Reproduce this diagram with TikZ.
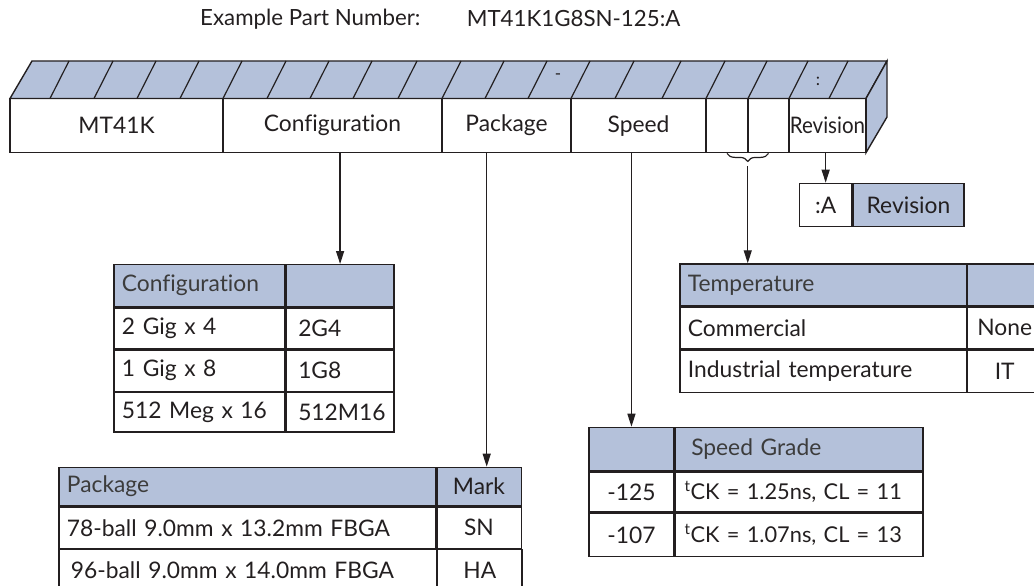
\documentclass[tikz,border=0pt]{standalone}
\usepackage{fontspec}
\setmainfont{Lato}[Ligatures={NoCommon}]
\usetikzlibrary{calc,arrows.meta,decorations.pathreplacing}

\definecolor{trait}{RGB}{35,31,32}
\definecolor{bleu}{RGB}{180,193,218}
\definecolor{gristexte}{RGB}{60,60,60}

\tikzset{
  case/.style={draw=trait, line width=1.4pt, inner sep=0pt, minimum height=54.2pt},
  cel/.style={draw=trait, line width=1.3pt, anchor=north west, inner xsep=8pt, inner ysep=0pt, align=left},
  celc/.style={draw=trait, line width=1.3pt, anchor=north west, inner sep=0pt, align=center},
  entete/.style={fill=bleu, text=gristexte},
  fleche/.style={draw=trait, line width=1.3pt, -{Triangle[length=13pt,width=8pt]}},
  cfgg/.style={cel, text width=155pt},
  cfgd/.style={cel, inner xsep=12pt, text width=83.7pt},
  pkgg/.style={cel, text width=360.6pt},
  pkgd/.style={celc, minimum width=84.3pt},
  spdg/.style={celc, minimum width=85pt},
  spdd/.style={cel, inner xsep=9.4pt, text width=228.9pt},
  tmpg/.style={cel, text width=270.2pt},
  tmpd/.style={celc, minimum width=74.5pt}
}

\begin{document}
\begin{tikzpicture}[x=1pt, y=-1pt, font=\fontsize{22.8}{27}\selectfont, text=trait]
      \useasboundingbox (0,0) rectangle (1034,586);
      \clip (0,0) rectangle (1034,586);

      % TITRE
      \node[anchor=west, font=\fontsize{22.3}{25}\selectfont] (titre) at (196.7,19) {Example Part Number:};
      \node[anchor=west, font=\fontsize{22.3}{25}\selectfont] (numero) at (463.3,19) {MT41K1G8SN-125:A};

      % DESSUS ET COTE
      \filldraw[fill=bleu, draw=trait, line width=1.4pt] (10,98.5) -- (32,61) -- (887,61) -- (866,98.5) -- cycle;
      \filldraw[fill=bleu, draw=trait, line width=1.4pt] (866,98.5) -- (887,61) -- (887,117) -- (866,152.7) -- cycle;
      \foreach \x in {50,94,137,180,223,267,310,353,398,442,485,528,571,615,662,706,748,789,829}
        \draw[trait, line width=1.2pt] (\x,98.5) -- ++(19,-37.5);
      \node[font=\fontsize{17}{19}\selectfont] (tiret) at (558,77) {-};
      \node[font=\fontsize{17}{19}\selectfont] (deuxpts) at (818,81) {:};

      % FACE AVANT
      \node[case, minimum width=213pt] (mt) at (116.5,125.6) {MT41K};
      \node[case, minimum width=219pt] (cfg) at (332.5,125.6) {Configuration};
      \node[case, minimum width=129pt] (pkg) at (506.5,125.6) {Package};
      \node[case, minimum width=135pt] (spd) at (638.5,125.6) {Speed};
      \node[case, minimum width=42pt] (b1) at (727,125.6) {};
      \node[case, minimum width=41pt] (b2) at (768.5,125.6) {};
      \node[case, minimum width=77pt] (rev) at (827.5,125.6) {\scalebox{0.9}[1]{Revision}};

      % REVISION
      \node[celc, minimum width=52pt, minimum height=43.3pt] (ra) at (799,182.7) {:A};
      \node[celc, entete, text=trait, minimum width=111pt, minimum height=43.3pt] (rtexte) at (ra.north east) {Revision};

      % TABLEAU CONFIGURATION
      \node[cfgg, entete, minimum height=42pt] (cfgtitre) at (113.3,264) {Configuration};
      \node[cfgd, entete, minimum height=42pt] (cfgcode) at (cfgtitre.north east) {};
      \node[cfgg, minimum height=41pt] (cfga) at (cfgtitre.south west) {2 Gig x 4};
      \node[cfgd, minimum height=41pt] (cfgac) at (cfga.north east) {2G4};
      \node[cfgg, minimum height=41pt] (cfgb) at (cfga.south west) {1 Gig x 8};
      \node[cfgd, minimum height=41pt] (cfgbc) at (cfgb.north east) {1G8};
      \node[cfgg, minimum height=39.5pt] (cfgc) at (cfgb.south west) {512 Meg x 16};
      \node[cfgd, minimum height=39.5pt] (cfgcc) at (cfgc.north east) {512M16};

      % TABLEAU BOITIER
      \node[pkgg, entete, minimum height=38.3pt] (pkgtitre) at (58.3,466.7) {Package};
      \node[pkgd, entete, text=trait, minimum height=38.3pt] (pkgmarque) at (pkgtitre.north east) {Mark};
      \node[pkgg, minimum height=41.5pt] (pkga) at (pkgtitre.south west) {78-ball 9.0mm x 13.2mm FBGA};
      \node[pkgd, minimum height=41.5pt] (pkgac) at (pkga.north east) {SN};
      \node[pkgg, inner xsep=12pt, text width=353.4pt, minimum height=41.5pt] (pkgb) at (pkga.south west) {96-ball 9.0mm x 14.0mm FBGA};
      \node[pkgd, minimum height=41.5pt] (pkgbc) at (pkgb.north east) {HA};

      % TABLEAU VITESSE
      \node[spdg, entete, minimum height=43.3pt] (spdhaut) at (588.3,426.7) {};
      \node[spdd, entete, inner xsep=16pt, text width=215.7pt, minimum height=43.3pt] (spdtitre) at (spdhaut.north east) {Speed Grade};
      \node[spdg, minimum height=40pt] (spda) at (spdhaut.south west) {-125};
      \node[spdd, minimum height=40pt, font=\fontsize{21.8}{26}\selectfont] (spdac) at (spda.north east) {\textsuperscript{t}CK~=~1.25ns,~CL~=~11};
      \node[spdg, minimum height=43.3pt] (spdb) at (spda.south west) {-107};
      \node[spdd, minimum height=43.3pt, font=\fontsize{21.8}{26}\selectfont] (spdbc) at (spdb.north east) {\textsuperscript{t}CK~=~1.07ns,~CL~=~13};

      % TABLEAU TEMPERATURE
      \node[tmpg, entete, minimum height=41.7pt] (tmptitre) at (679.3,263.3) {Temperature};
      \node[tmpd, entete, minimum height=41.7pt] (tmpcode) at (tmptitre.north east) {};
      \node[tmpg, minimum height=41.7pt] (tmpa) at (tmptitre.south west) {Commercial};
      \node[tmpd, minimum height=41.7pt] (tmpac) at (tmpa.north east) {None};
      \node[tmpg, minimum height=42.6pt] (tmpb) at (tmpa.south west) {Industrial temperature};
      \node[tmpd, minimum height=42.6pt] (tmpbc) at (tmpb.north east) {IT};

      % FLECHES
      \coordinate (xpkg) at (486.7,0);
      \draw[fleche] (cfg.south -| cfgcode.north) -- (cfgcode.north);
      \draw[fleche] (pkg.south -| xpkg) -- (pkgmarque.north -| xpkg);
      \draw[fleche] (spd.south -| spdhaut.north) -- (spdhaut.north);
      \draw[fleche] (rev.south -| ra.north) -- (ra.north);
      \draw[trait, line width=1.2pt, decorate, decoration={brace, mirror, amplitude=8pt}] (b1.south) -- (b2.south);
      \coordinate (pointe) at ($(b1.south)!.5!(b2.south)+(0,13)$);
      \draw[fleche] (pointe) -- (pointe |- tmptitre.north);
\end{tikzpicture}
\end{document}
